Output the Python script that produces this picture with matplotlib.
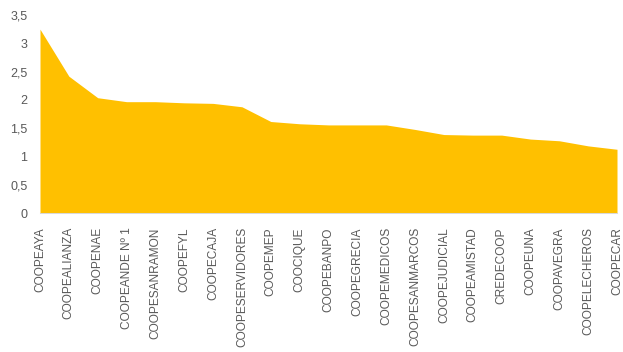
import matplotlib
matplotlib.use("Agg")
import matplotlib.pyplot as plt
from matplotlib.ticker import FuncFormatter

categories = ["COOPEAYA", "COOPEALIANZA", "COOPENAE", "COOPEANDE Nº 1", "COOPESANRAMON",
              "COOPEFYL", "COOPECAJA", "COOPESERVIDORES", "COOPEMEP", "COOCIQUE",
              "COOPEBANPO", "COOPEGRECIA", "COOPEMEDICOS", "COOPESANMARCOS", "COOPEJUDICIAL",
              "COOPEAMISTAD", "CREDECOOP", "COOPEUNA", "COOPAVEGRA", "COOPELECHEROS", "COOPECAR"]
values = [3.25, 2.42, 2.04, 1.97, 1.97, 1.95, 1.94, 1.88, 1.62, 1.58,
          1.56, 1.56, 1.56, 1.48, 1.39, 1.38, 1.38, 1.31, 1.28, 1.19, 1.13]
yticks = [0, 0.5, 1, 1.5, 2, 2.5, 3, 3.5]

fig = plt.figure(figsize=(6.23, 3.52), dpi=100)
ax = fig.add_axes([40/623, (352-213.3)/352, (617-40)/623, (213.3-15)/352])
x = list(range(len(categories)))
ax.fill_between(x, values, 0, color="#FFC000", linewidth=0)
ax.set_xlim(0, len(categories) - 1)
ax.set_ylim(0, 3.5)
ax.set_yticks(yticks)
ax.yaxis.set_major_formatter(FuncFormatter(lambda v, p: ("%g" % v).replace(".", ",")))
ax.set_xticks(x)
ax.set_xticklabels(categories, rotation=90, fontsize=8.6, color="#595959",
                   family="Liberation Sans", ha="center", va="top")
for lab in ax.get_yticklabels():
    lab.set_fontsize(9)
    lab.set_color("#595959")
    lab.set_family("Liberation Sans")
ax.tick_params(axis="both", length=0)
ax.tick_params(axis="x", pad=10)
ax.tick_params(axis="y", pad=9)
for s in ["top", "right", "left"]:
    ax.spines[s].set_visible(False)
ax.spines["bottom"].set_color("#D9D9D9")
ax.spines["bottom"].set_linewidth(0.75)
fig.savefig("out.png", dpi=100)
